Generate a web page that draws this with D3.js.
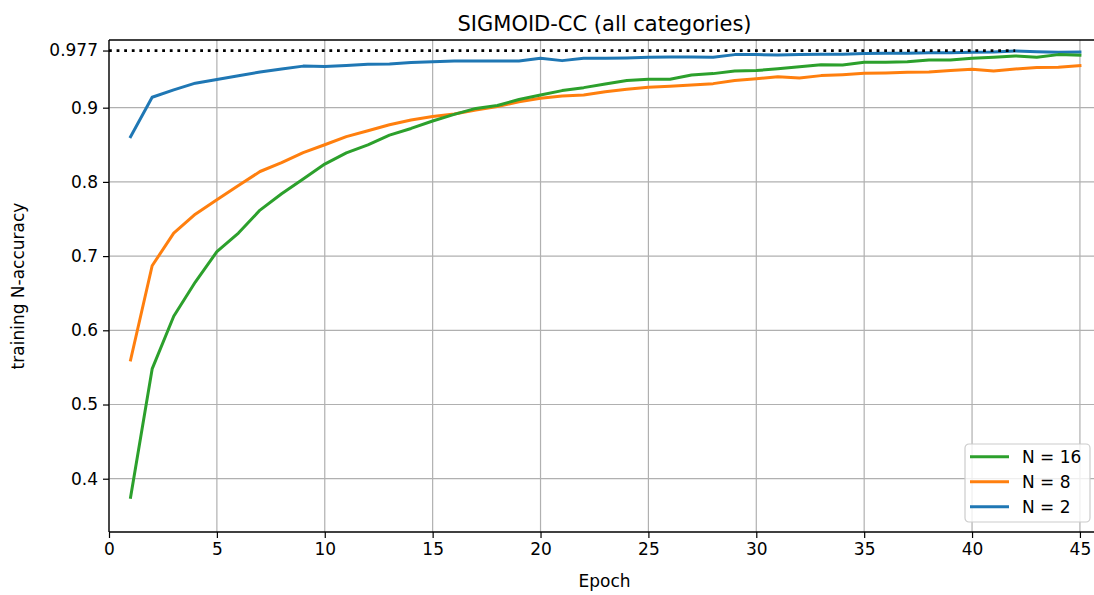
<!DOCTYPE html>
<html>
<head>
<meta charset="utf-8">
<script src="https://cdn.jsdelivr.net/npm/d3@7"></script>
<style>
  html, body { margin: 0; padding: 0; background: #ffffff; overflow: hidden; }
  svg { display: block; font-family: "DejaVu Sans", sans-serif; }
</style>
</head>
<body>
<svg id="chart" width="1094" height="595"></svg>
<script>
const epochs = d3.range(1, 46);
const n16 = [0.375,0.548,0.619,0.665,0.706,0.731,0.762,0.784,0.804,0.824,
  0.839,0.850,0.863,0.872,0.882,0.891,0.899,0.903,0.911,0.917,
  0.923,0.927,0.932,0.9365,0.9383,0.9383,0.944,0.9459,0.9495,0.950,
  0.9526,0.9553,0.958,0.9576,0.9612,0.9612,0.962,0.9643,0.9643,0.9666,
  0.968,0.9697,0.968,0.9715,0.9706];
const n8 = [0.560,0.687,0.731,0.7565,0.776,0.795,0.814,0.826,0.8395,0.850,
  0.861,0.869,0.877,0.8835,0.888,0.8916,0.897,0.9014,0.908,0.9127,
  0.9158,0.917,0.9216,0.9248,0.9275,0.929,0.9306,0.9324,0.9365,0.939,
  0.9418,0.940,0.9432,0.9445,0.9464,0.9468,0.9477,0.948,0.950,0.9518,
  0.9495,0.9522,0.954,0.9545,0.9567];
const n2 = [0.861,0.914,0.924,0.933,0.938,0.943,0.948,0.952,0.956,0.9555,
  0.957,0.9585,0.959,0.961,0.962,0.963,0.963,0.963,0.963,0.9666,
  0.9634,0.9666,0.9666,0.967,0.968,0.9684,0.9684,0.968,0.9715,0.9715,
  0.971,0.9715,0.972,0.972,0.973,0.9733,0.9735,0.974,0.974,0.9747,
  0.975,0.9765,0.9755,0.9747,0.975];
const seriesNames = ["N = 16", "N = 8", "N = 2"];
const seriesColors = ["#2ca02c", "#ff7f0e", "#1f77b4"];
const refValue = 0.977;
const refRange = [0, 42];
const xTicks = d3.range(0, 50, 5);
const yTicks = [0.4, 0.5, 0.6, 0.7, 0.8, 0.9];
const yTickExtra = [0.977];
const xDomain = [0, 45.93];
const yDomain = [0.3282, 0.9912];

const svg = d3.select("#chart");
const L = 109, T = 40, R = 1100, B = 532;
const x = d3.scaleLinear().domain(xDomain).range([L, R]);
const y = d3.scaleLinear().domain(yDomain).range([B, T]);

// grid
const grid = svg.append("g");
grid.selectAll("line.gx").data(xTicks).join("line")
  .attr("x1", d => x(d)).attr("x2", d => x(d)).attr("y1", T).attr("y2", B)
  .attr("stroke", "#b0b0b0").attr("stroke-width", 1.2);
grid.selectAll("line.gy").data(yTicks).join("line")
  .attr("x1", L).attr("x2", R).attr("y1", d => y(d)).attr("y2", d => y(d))
  .attr("stroke", "#b0b0b0").attr("stroke-width", 1.2);

// lines
const line = d3.line().x((d, i) => x(epochs[i])).y(d => y(d));
const allSeries = [n16, n8, n2];
const drawOrder = [2, 1, 0];
drawOrder.forEach(k => {
  svg.append("path").datum(allSeries[k])
    .attr("d", line).attr("fill", "none")
    .attr("stroke", seriesColors[k]).attr("stroke-width", 3)
    .attr("stroke-linejoin", "round").attr("stroke-linecap", "square");
});

// reference dotted line
svg.append("line")
  .attr("x1", x(refRange[0])).attr("x2", x(refRange[1]))
  .attr("y1", y(refValue)).attr("y2", y(refValue))
  .attr("stroke", "#000").attr("stroke-width", 2.8)
  .attr("stroke-dasharray", "2.8,4.8");

// spines
svg.append("line").attr("x1", L).attr("x2", L).attr("y1", T).attr("y2", B).attr("stroke", "#000").attr("stroke-width", 1.3);
svg.append("line").attr("x1", L).attr("x2", R).attr("y1", B).attr("y2", B).attr("stroke", "#000").attr("stroke-width", 1.3);
svg.append("line").attr("x1", L).attr("x2", R).attr("y1", T).attr("y2", T).attr("stroke", "#000").attr("stroke-width", 1.3);

// axes
const xAxis = d3.axisBottom(x).tickValues(xTicks).tickFormat(d3.format("d")).tickSize(6).tickPadding(5);
const gx = svg.append("g").attr("transform", `translate(0,${B})`).call(xAxis);
gx.select(".domain").remove();
gx.selectAll("text").attr("font-size", 17).attr("fill", "#000").attr("font-family", "DejaVu Sans");
gx.selectAll("line").attr("stroke", "#000").attr("stroke-width", 1.2);

const yAxis = d3.axisLeft(y).tickValues(yTicks.concat(yTickExtra)).tickFormat(d => String(d)).tickSize(6).tickPadding(5);
const gy = svg.append("g").attr("transform", `translate(${L},0)`).call(yAxis);
gy.select(".domain").remove();
gy.selectAll("text").attr("font-size", 17).attr("fill", "#000").attr("font-family", "DejaVu Sans");
gy.selectAll("line").attr("stroke", "#000").attr("stroke-width", 1.2);

// title & labels
svg.append("text").attr("x", (L + R) / 2).attr("y", 31).attr("text-anchor", "middle")
  .attr("font-size", 21).text("SIGMOID-CC (all categories)");
svg.append("text").attr("x", (L + R) / 2).attr("y", 587).attr("text-anchor", "middle")
  .attr("font-size", 17).text("Epoch");
svg.append("text").attr("transform", `translate(24,${(T + B) / 2}) rotate(-90)`)
  .attr("text-anchor", "middle").attr("font-size", 17).text("training N-accuracy");

// legend
const lg = svg.append("g").attr("transform", "translate(965,444)");
lg.append("rect").attr("width", 125).attr("height", 78).attr("rx", 4)
  .attr("fill", "#fff").attr("fill-opacity", 0.8).attr("stroke", "#cccccc").attr("stroke-width", 1.2);
seriesNames.forEach((name, i) => {
  const yy = 12.7 + i * 25;
  lg.append("line").attr("x1", 5).attr("x2", 44).attr("y1", yy).attr("y2", yy)
    .attr("stroke", seriesColors[i]).attr("stroke-width", 3);
  lg.append("text").attr("x", 57).attr("y", yy + 6).attr("font-size", 17).text(name);
});
</script>
</body>
</html>
